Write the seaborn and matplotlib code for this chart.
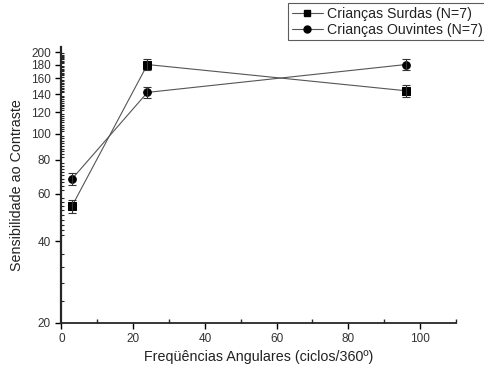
import pandas as pd
import numpy as np
import matplotlib
matplotlib.use('Agg')
import matplotlib.pyplot as plt
from matplotlib.ticker import FixedLocator, FixedFormatter, NullFormatter
import seaborn as sns

# values
freqs = [3, 24, 96]
surdas = [54, 180, 144]
surdas_err = [3, 8, 7]
ouvintes = [68, 142, 180]
ouvintes_err = [3.5, 7, 8]
labels = ['Crianças Surdas (N=7)', 'Crianças Ouvintes (N=7)']
y_major = [20, 40, 60, 80, 100, 120, 140, 160, 180, 200]
x_major = [0, 20, 40, 60, 80, 100]

df = pd.DataFrame({
    'freq': freqs * 2,
    'cs': surdas + ouvintes,
    'err': surdas_err + ouvintes_err,
    'grupo': [labels[0]] * 3 + [labels[1]] * 3,
})

sns.set_style('ticks')
plt.rcParams['font.family'] = ['Liberation Sans', 'DejaVu Sans']

fig = plt.figure(figsize=(4.84, 3.65), dpi=100)
ax = fig.add_axes([0.1267, 0.1164, 0.8155, 0.7548])

sns.lineplot(
    data=df, x='freq', y='cs', hue='grupo', style='grupo',
    markers=['s', 'o'], dashes=False,
    palette=['#555555', '#555555'],
    linewidth=0.8, markersize=5.5,
    markerfacecolor='black', markeredgecolor='black',
    legend=False, ax=ax
)

for g in labels:
    sub = df[df['grupo'] == g]
    ax.errorbar(sub['freq'], sub['cs'], yerr=sub['err'], fmt='none',
                ecolor='#333333', elinewidth=0.8, capsize=3, capthick=0.8)

ax.set_yscale('log')
ax.set_xlim(0, 110)
ax.set_ylim(20, 209)

ax.yaxis.set_major_locator(FixedLocator(y_major))
ax.yaxis.set_major_formatter(FixedFormatter([str(v) for v in y_major]))
minors = [24, 28, 32, 36] + [v for v in range(42, 200, 2) if v not in y_major]
ax.yaxis.set_minor_locator(FixedLocator(minors))
ax.yaxis.set_minor_formatter(NullFormatter())

ax.xaxis.set_major_locator(FixedLocator(x_major))
ax.xaxis.set_minor_locator(FixedLocator([10, 30, 50, 70, 90, 110]))

ax.tick_params(axis='both', which='major', direction='out', length=4,
               width=1, labelsize=8.5, labelcolor='#333333', color='black')
ax.tick_params(axis='y', which='minor', direction='in', length=2.5, width=0.8)
ax.tick_params(axis='x', which='minor', direction='in', length=3, width=1)

sns.despine(ax=ax)
ax.spines['left'].set_linewidth(1.6)
ax.spines['bottom'].set_linewidth(1.3)

ax.set_xlabel('Freqüências Angulares (ciclos/360º)', fontsize=10.3, color='#222222', labelpad=4)
ax.set_ylabel('Sensibilidade ao Contraste', fontsize=10.3, color='#222222', labelpad=5)

handles = [
    plt.Line2D([], [], color='#555555', lw=0.8, marker='s', markersize=5,
               markerfacecolor='black', markeredgecolor='black'),
    plt.Line2D([], [], color='#555555', lw=0.8, marker='o', markersize=5,
               markerfacecolor='black', markeredgecolor='black'),
]
leg = fig.legend(handles, labels, loc='upper left', bbox_to_anchor=(288 / 484, 1 - 3 / 365),
                 fontsize=10.2, frameon=True, fancybox=False, handlelength=2.2,
                 handletextpad=0.3, borderpad=0.25, labelspacing=0.15, borderaxespad=0)
leg.get_frame().set_edgecolor('#333333')
leg.get_frame().set_linewidth(0.8)
for t in leg.get_texts():
    t.set_color('#222222')

fig.savefig('out.png', dpi=100)
